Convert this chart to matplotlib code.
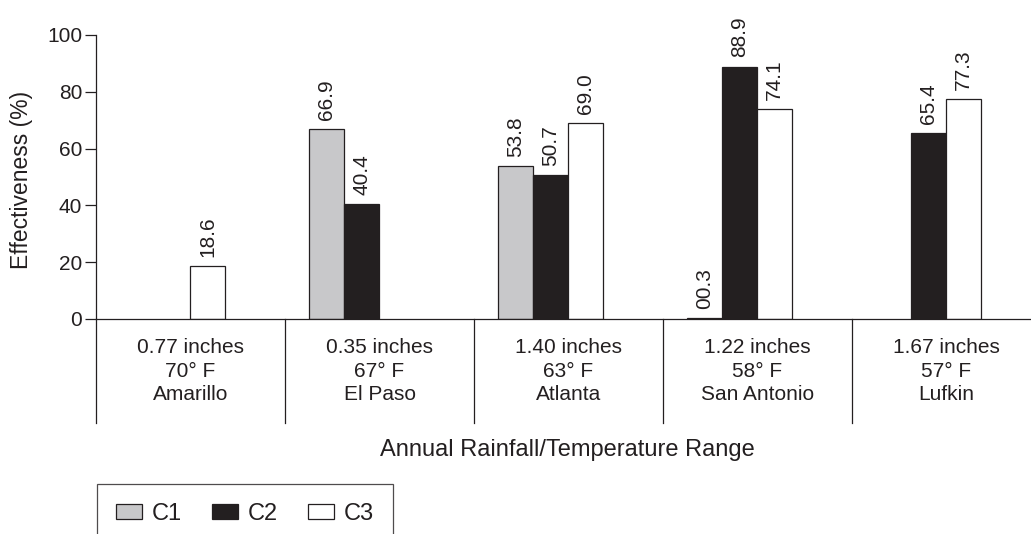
import matplotlib
matplotlib.use("Agg")
import matplotlib.pyplot as plt
from matplotlib.patches import Patch

plt.rcParams['font.family'] = ['Liberation Sans', 'DejaVu Sans']

# data
sites = ['0.77 inches\n70° F\nAmarillo', '0.35 inches\n67° F\nEl Paso',
         '1.40 inches\n63° F\nAtlanta', '1.22 inches\n58° F\nSan Antonio',
         '1.67 inches\n57° F\nLufkin']
c1 = [None, 66.9, 53.8, 0.3, None]
c2 = [None, 40.4, 50.7, 88.9, 65.4]
c3 = [18.6, None, 69.0, 74.1, 77.3]
c1_text = [None, '66.9', '53.8', '00.3', None]
c2_text = [None, '40.4', '50.7', '88.9', '65.4']
c3_text = ['18.6', None, '69.0', '74.1', '77.3']

ink = '#231f20'
W, H = 1031, 534
fig = plt.figure(figsize=(W / 100, H / 100), dpi=100)
# axes deliberately run past the right edge, like the original
ax = fig.add_axes([96 / W, 1 - 319 / H, 945 / W, 284 / H])

width = 0.185
series = [(c1, c1_text, '#c8c8ca', -0.28), (c2, c2_text, ink, -0.095),
          (c3, c3_text, 'white', 0.09)]
for vals, texts, col, off in series:
    for i, (v, t) in enumerate(zip(vals, texts)):
        if v is None:
            continue
        x = i + 0.5 + off
        ax.bar(x, v, width=width, color=col, edgecolor=ink, linewidth=0.9)
        ax.annotate(t, (x, v), xytext=(0, 6.5), textcoords='offset points',
                    rotation=90, ha='center', va='bottom', fontsize=15, color=ink)

ax.set_xlim(0, 5)
ax.set_ylim(0, 100)
ax.set_yticks([0, 20, 40, 60, 80, 100])
ax.set_xticks([])
ax.tick_params(axis='y', length=8, width=0.9, colors=ink, labelsize=15, pad=2)
for s in ['top', 'right']:
    ax.spines[s].set_visible(False)
for s in ['left', 'bottom']:
    ax.spines[s].set_color(ink)
    ax.spines[s].set_linewidth(0.9)

# group dividers below the axis and the category labels
trans = ax.get_xaxis_transform()
for i in range(5):
    ax.plot([i, i], [0, -0.366], transform=trans, color=ink, lw=0.9, clip_on=False)
    ax.text(i + 0.5, -0.068, sites[i], transform=trans, ha='center', va='top',
            fontsize=15, color=ink, linespacing=1.3)

fig.text(567 / W, 1 - 450 / H, 'Annual Rainfall/Temperature Range', ha='center',
         va='center', fontsize=17, color=ink)
fig.text(22 / W, 1 - 180 / H, 'Effectiveness (%)', rotation=90, ha='center',
         va='center', fontsize=16.5, color=ink)

handles = [Patch(facecolor='#c8c8ca', edgecolor=ink, lw=0.9, label='C1'),
           Patch(facecolor=ink, edgecolor=ink, lw=0.9, label='C2'),
           Patch(facecolor='white', edgecolor=ink, lw=0.9, label='C3')]
leg = fig.legend(handles=handles, loc='upper left', ncol=3,
                 bbox_to_anchor=(97 / W, 1 - 484 / H), fontsize=17,
                 frameon=True, fancybox=False, borderpad=0.8,
                 handlelength=1.1, handleheight=0.6, handletextpad=0.4,
                 columnspacing=1.3, borderaxespad=0)
leg.get_frame().set_edgecolor(ink)
leg.get_frame().set_linewidth(0.9)
for t in leg.get_texts():
    t.set_color(ink)

fig.savefig('out.png', dpi=100)
